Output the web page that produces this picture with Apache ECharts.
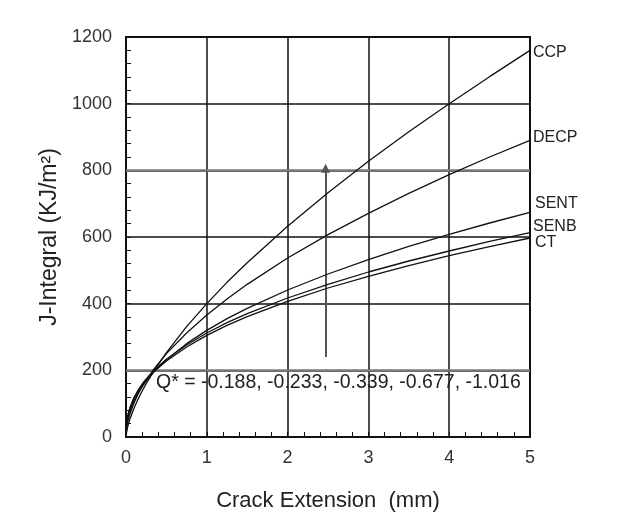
<!DOCTYPE html>
<html>
<head>
<meta charset="utf-8">
<script src="https://cdn.jsdelivr.net/npm/echarts@6/dist/echarts.min.js"></script>
<style>
  html, body { margin: 0; padding: 0; background: #fff; }
  #chart { width: 635px; height: 522px; }
</style>
</head>
<body>
<div id="chart"></div>
<script>
// crack extension (mm)
const xs = [0, 0.01, 0.02, 0.03, 0.05, 0.1, 0.15, 0.2, 0.25, 0.35, 0.5, 0.75, 1, 1.25, 1.5, 2, 2.5, 3, 3.5, 4, 4.5, 5]
// J-integral (KJ/m2) per specimen
const ccp  = [0, 19, 30, 39, 55, 87, 114, 138, 160, 200, 253, 331, 400, 464, 523, 632, 733, 827, 916, 1000, 1081, 1160]
const decp = [0, 29, 42, 53, 70, 103, 129, 151, 170, 205, 250, 312, 366, 414, 458, 537, 607, 671, 731, 787, 840, 890]
const sent = [0, 38, 52, 63, 80, 110, 133, 152, 168, 197, 232, 280, 320, 355, 386, 441, 489, 532, 572, 608, 642, 674]
const senb = [0, 45, 60, 72, 89, 119, 141, 159, 174, 201, 233, 276, 312, 343, 370, 417, 458, 495, 528, 558, 587, 613]
const ct   = [0, 45, 60, 71, 87, 117, 138, 156, 171, 197, 228, 270, 305, 335, 361, 407, 447, 482, 514, 544, 571, 597]

const seriesNames = ['CCP', 'DECP', 'SENT', 'SENB', 'CT']
const seriesValues = [ccp, decp, sent, senb, ct]
const labelOffsets = [[0, 2], [0, -3], [2, -9], [0, -6], [2, 5]]

const xTicks = [0, 1, 2, 3, 4, 5]
const yTicks = [0, 200, 400, 600, 800, 1000, 1200]
const greyLines = [200, 800]
const arrowX = 2.47
const arrowFrom = 240
const arrowTo = 806
const qText = 'Q* = -0.188, -0.233, -0.339, -0.677, -1.016'

const font = 'Liberation Sans'
const chart = echarts.init(document.getElementById('chart'))

const series = seriesNames.map((name, k) => ({
  name: name,
  type: 'line',
  data: xs.map((x, i) => [x, seriesValues[k][i]]),
  showSymbol: false,
  lineStyle: { color: '#111', width: 1.3 },
  itemStyle: { color: '#111' },
  z: 5,
  endLabel: {
    show: true,
    formatter: '{a}',
    distance: 3,
    offset: labelOffsets[k],
    color: '#222',
    fontFamily: font,
    fontSize: 16
  }
}))

// grey grid lines and the arrow
series.push({
  name: 'marks',
  type: 'line',
  data: [],
  markLine: {
    silent: true,
    symbol: 'none',
    label: { show: false },
    data: greyLines.map(v => ({
      yAxis: v,
      lineStyle: { color: '#7a7a7a', width: 2.5, type: 'solid' }
    })).concat([[
      { coord: [arrowX, arrowFrom], symbol: 'none' },
      { coord: [arrowX, arrowTo], symbol: 'triangle', symbolSize: 9 }
    ]]),
    lineStyle: { color: '#555', width: 2, type: 'solid' },
    itemStyle: { color: '#333' }
  },
  z: 3
})

chart.setOption({
  animation: false,
  backgroundColor: '#fff',
  grid: {
    left: 126, right: 105, top: 37, bottom: 85,
    show: true, borderColor: '#111', borderWidth: 2
  },
  xAxis: {
    type: 'value',
    min: xTicks[0],
    max: xTicks[xTicks.length - 1],
    interval: 1,
    name: 'Crack Extension  (mm)',
    nameLocation: 'middle',
    nameGap: 53,
    nameTextStyle: { fontFamily: font, fontSize: 22, color: '#222' },
    axisLine: { show: true, lineStyle: { color: '#111', width: 2 } },
    axisTick: { show: true, inside: true, length: 5, lineStyle: { color: '#111' } },
    minorTick: { show: true, splitNumber: 5, length: 5, lineStyle: { color: '#111', width: 1 } },
    splitLine: { show: true, lineStyle: { color: '#111', width: 1.5 } },
    axisLabel: { fontFamily: font, fontSize: 18, color: '#333', margin: 12 }
  },
  yAxis: {
    type: 'value',
    min: yTicks[0],
    max: yTicks[yTicks.length - 1],
    interval: 200,
    name: 'J-Integral (KJ/m²)',
    nameLocation: 'middle',
    nameGap: 60,
    nameTextStyle: { fontFamily: font, fontSize: 23, color: '#222' },
    axisLine: { show: true, lineStyle: { color: '#111', width: 2 } },
    axisTick: { show: true, inside: true, length: 5, lineStyle: { color: '#111' } },
    minorTick: { show: true, splitNumber: 5, length: 5, lineStyle: { color: '#111', width: 1 } },
    splitLine: { show: true, lineStyle: { color: '#111', width: 1.5 } },
    axisLabel: { fontFamily: font, fontSize: 18, color: '#333', margin: 14, formatter: v => String(v) }
  },
  graphic: [{
    type: 'text',
    z: 1,
    style: {
      text: qText,
      x: 156,
      y: 383,
      verticalAlign: 'middle',
      font: '19.5px "Liberation Sans"',
      fill: '#222'
    }
  }],
  series: series
})
</script>
</body>
</html>
